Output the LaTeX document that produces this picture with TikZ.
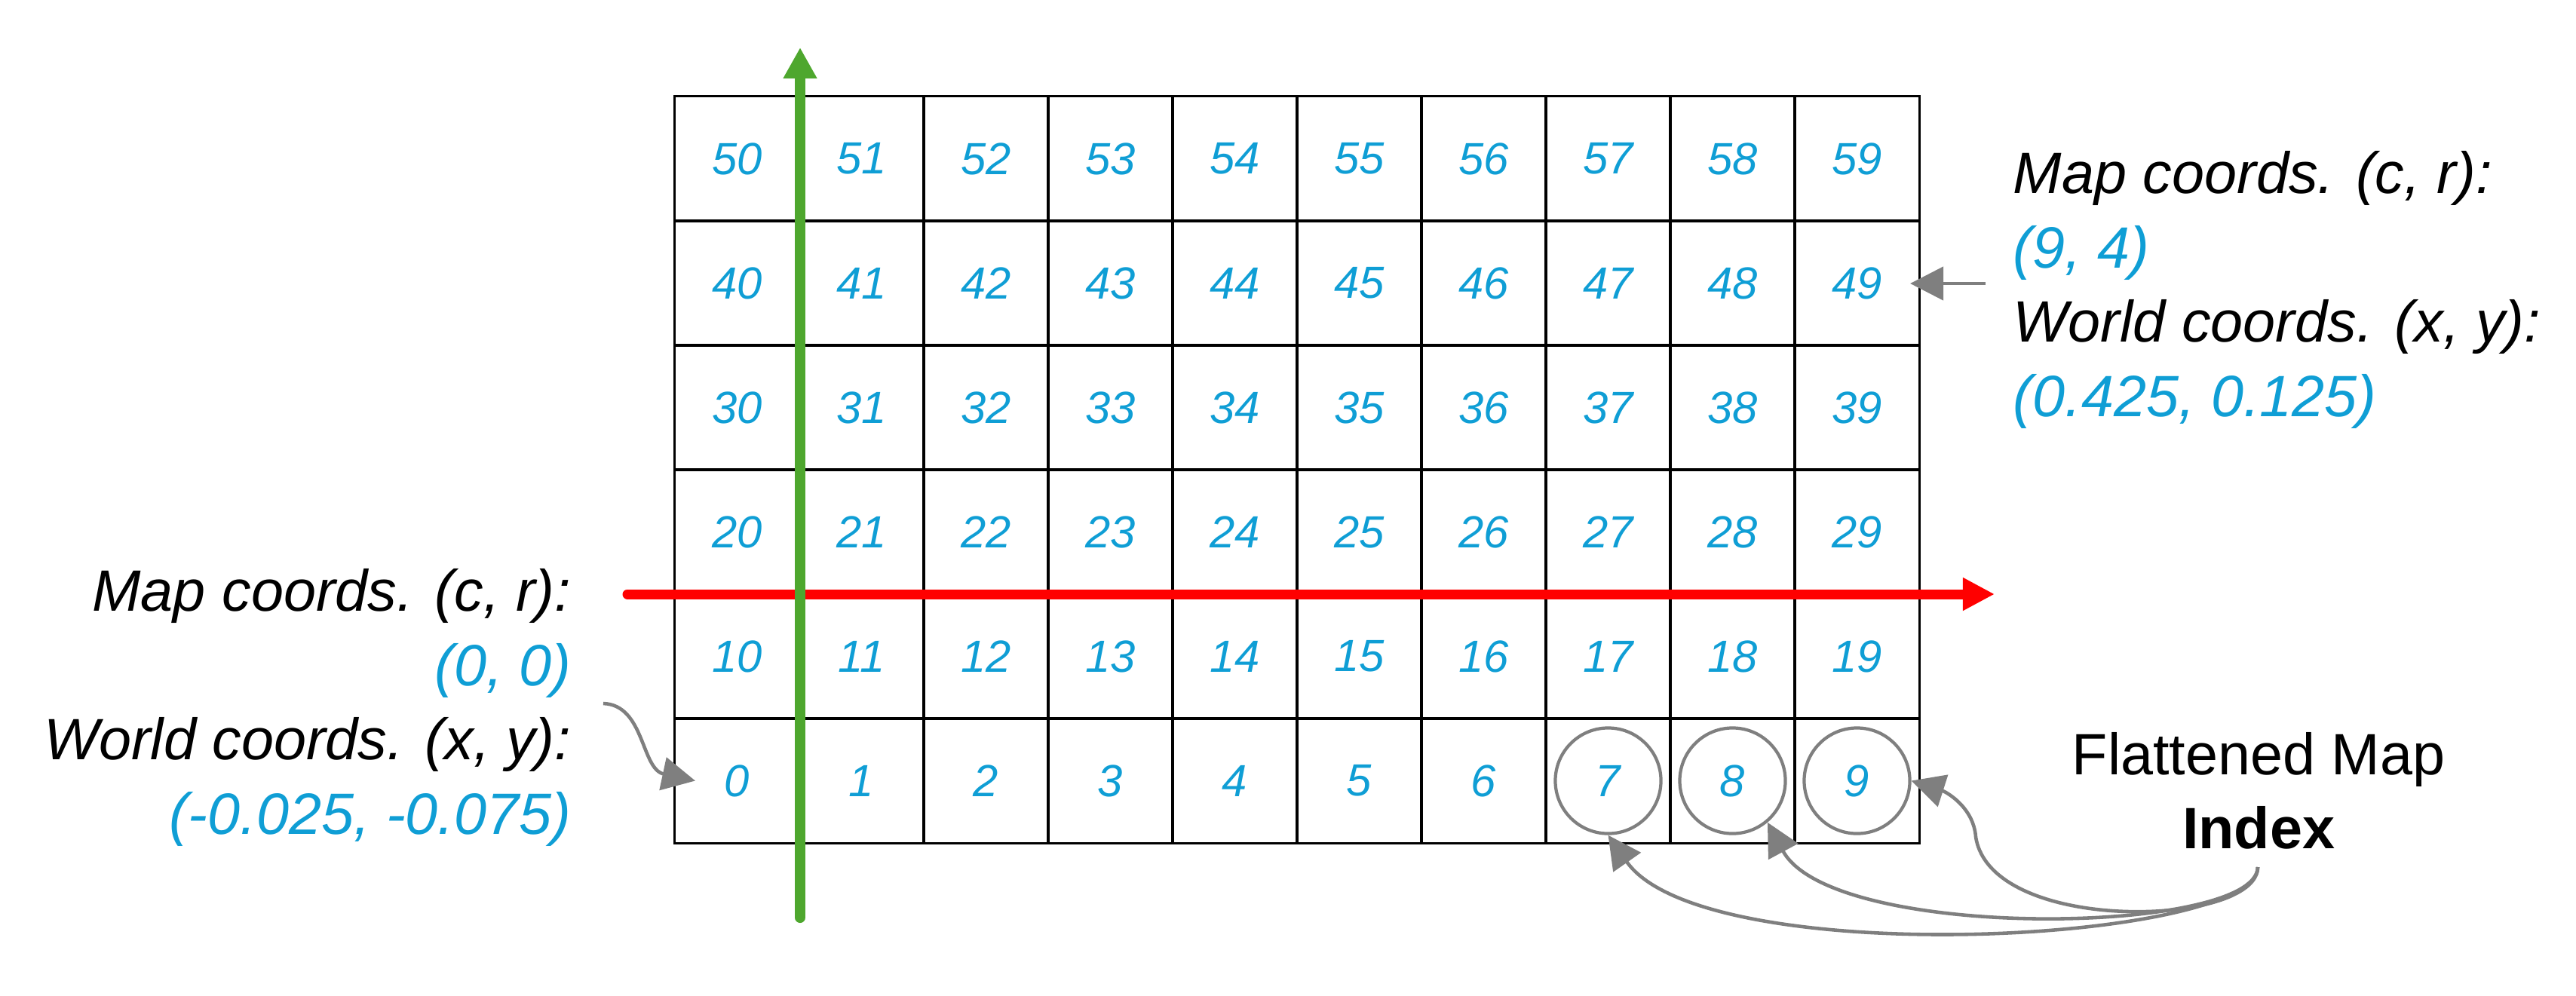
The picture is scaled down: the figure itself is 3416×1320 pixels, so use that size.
\documentclass[tikz,border=0pt]{standalone}
\usepackage{fontspec}
\setmainfont{Liberation Sans}
\usetikzlibrary{arrows.meta,calc}
\definecolor{oblue}{HTML}{0F9ED5}
\definecolor{ogreen}{HTML}{4EA72E}
\definecolor{ogray}{HTML}{7F7F7F}
\begin{document}
\begin{tikzpicture}[x=0.01cm,y=-0.01cm,
  cell/.style={draw=black, line width=0.85pt, minimum size=1.65cm, inner sep=0pt, outer sep=0pt, text=oblue, font=\fontsize{17}{20}\selectfont\itshape},
  lbl/.style={inner sep=0pt, font=\fontsize{22}{26}\selectfont\itshape},
  plain/.style={inner sep=0pt, font=\fontsize{22}{26}\selectfont},
  circ/.style={circle, draw=ogray, line width=1.2pt, minimum size=1.4cm, inner sep=0pt},
  garrow/.style={draw=ogray, line width=1.3pt, -{Triangle[length=12.5pt,width=12.5pt]}},
  axisx/.style={draw=red, line width=3.7pt, line cap=round, -{Triangle[length=12pt,width=11.7pt]}},
  axisy/.style={draw=ogreen, line width=4pt, line cap=round, -{Triangle[length=11.7pt,width=12pt]}}
]
\useasboundingbox (0,0) rectangle (3416,1320);
% grid
\foreach \r in {0,...,5}{
  \foreach \c in {0,...,9}{
    \pgfmathtruncatemacro{\idx}{10*\r+\c}
    \node[cell] (n\idx) at ({977.5+165*\c},{1035.5-165*\r}) {\idx};
  }
}
% circles
\node[circ] (c7) at (n7) {};
\node[circ] (c8) at (n8) {};
\node[circ] (c9) at (n9) {};
% axes
\coordinate (xs) at (832,788);
\coordinate (xe) at (2645,788);
\draw[axisx] (xs) -- (xe);
\coordinate (ys) at (1061,1217);
\coordinate (ye) at (1061,63);
\draw[axisy] (ys) -- (ye);
% left labels
\node[lbl, anchor=base east] (lm) at (758,810) {Map coords. (c, r):};
\node[lbl, anchor=base east, text=oblue] (lmv) at (758,909) {(0, 0)};
\node[lbl, anchor=base east] (lw) at (758,1007) {World coords. (x, y):};
\node[lbl, anchor=base east, text=oblue] (lwv) at (758,1106) {(-0.025, -0.075)};
% right labels
\node[lbl, anchor=base west] (rm) at (2669,256) {Map coords. (c, r):};
\node[lbl, anchor=base west, text=oblue] (rmv) at (2669,355) {(9, 4)};
\node[lbl, anchor=base west] (rw) at (2669,453) {World coords. (x, y):};
\node[lbl, anchor=base west, text=oblue] (rwv) at (2669,552) {(0.425, 0.125)};
% index label
\node[plain, anchor=base] (fm) at (2995,1027) {Flattened Map};
\node[plain, anchor=base, font=\fontsize{22}{26}\selectfont\bfseries] (ix) at (2995,1125) {Index};
% connectors
\coordinate (ls) at (800,933);
\draw[garrow] (ls) .. controls (855,935) and (850,1020) .. ([xshift=0.27cm]n0.west);
\coordinate (ra) at (2633,376);
\draw[garrow] (ra) -- ($(n49.east |- ra)+(-12,0)$);
\coordinate (is) at (2994,1150);
\draw[garrow] (is) .. controls (2994,1230) and (2640,1240) .. (2620,1110) .. controls (2617,1070) and (2580,1050) .. (c9.east);
\draw[garrow] (is) .. controls (2994,1240) and (2430,1250) .. (c8.-50);
\draw[garrow] (is) .. controls (2994,1250) and (2260,1290) .. (c7.south);
\end{tikzpicture}
\end{document}
